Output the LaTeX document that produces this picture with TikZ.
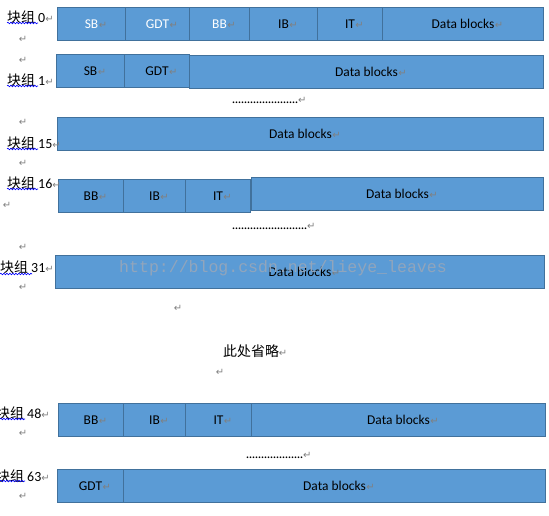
\documentclass[tikz,border=0pt]{standalone}
\usepackage{fontspec}
\setmainfont{Carlito}
\newfontfamily\cjkfont{Noto Sans CJK SC}
\newfontfamily\arrowfont{DejaVu Sans}
\newfontfamily\wmfont{Liberation Mono}
\usetikzlibrary{decorations.pathmorphing}
\definecolor{BlockFill}{RGB}{91,155,213}
\definecolor{BlockEdge}{RGB}{65,113,156}
\definecolor{MarkClr}{RGB}{128,128,128}
\definecolor{WaterClr}{RGB}{145,165,188}
\newcommand\pmark{{\arrowfont\fontsize{10}{10}\selectfont\textcolor{MarkClr}{↵}}}
\newcommand\cellmark{\rlap{\kern0.5bp\pmark}}
\newcommand\dotrun[1]{\hbox to #1bp{\xleaders\hbox to 3bp{\hss.\hss}\hfill}}

\begin{document}
\begin{tikzpicture}[x=1bp,y=-1bp,
  cell/.style={draw=BlockEdge,fill=BlockFill,line width=1bp,anchor=north west,inner sep=0pt,
    minimum width=#1bp,minimum height=33bp,font=\fontsize{13.5}{16}\selectfont},
  lbl/.style={anchor=west,inner sep=0pt,font=\fontsize{14}{17}\selectfont},
  pmk/.style={inner sep=0pt},
  squig/.style={draw=blue,line width=0.6bp,decorate,decoration={snake,amplitude=0.8bp,segment length=3bp}}]
\useasboundingbox (0,0) rectangle (549,516);

% group 0
\node[cell=68,text=white] (g0sb) at (57,7) {SB\cellmark};
\node[cell=64,text=white] (g0gdt) at (125,7) {GDT\cellmark};
\node[cell=60,text=white] (g0bb) at (189,7) {BB\cellmark};
\node[cell=68] (g0ib) at (249,7) {IB\cellmark};
\node[cell=65] (g0it) at (317,7) {IT\cellmark};
\node[cell=161] (g0data) at (382,7) {Data blocks\cellmark};
\node[lbl] (lbl0) at (7,17) {{\cjkfont 块组} 0\pmark};
\draw[squig] (7,23) -- (38,23);

% group 1
\node[cell=68] (g1sb) at (56,54) {SB\cellmark};
\node[cell=65] (g1gdt) at (124,54) {GDT\cellmark};
\node[cell=354] (g1data) at (189,55) {Data blocks\cellmark};
\node[lbl] (lbl1) at (7,80) {{\cjkfont 块组} 1\pmark};
\draw[squig] (7,86) -- (38,86);

\node[lbl,anchor=base west] (dots1) at (232,104) {\dotrun{66}\pmark};

% group 15
\node[cell=486] (g15data) at (57,117) {Data blocks\cellmark};
\node[lbl] (lbl15) at (7,143) {{\cjkfont 块组} 15\pmark};
\draw[squig] (7,149) -- (38,149);

% group 16
\node[cell=65] (g16bb) at (58,179) {BB\cellmark};
\node[cell=62] (g16ib) at (123,179) {IB\cellmark};
\node[cell=65] (g16it) at (185,179) {IT\cellmark};
\node[cell=292] (g16data) at (251,177) {Data blocks\cellmark};
\node[lbl] (lbl16) at (7,183) {{\cjkfont 块组} 16\pmark};
\draw[squig] (7,189) -- (38,189);

\node[lbl,anchor=base west] (dots2) at (232,229) {\dotrun{75}\pmark};

% group 31
\node[cell=489] (g31data) at (55,255) {Data blocks\cellmark};
\node[lbl] (lbl31) at (0,267) {{\cjkfont 块组} 31\pmark};
\draw[squig] (0,274) -- (32,274);
\node[inner sep=0pt,text=WaterClr,font=\wmfont\fontsize{16.6}{18}\selectfont] (wm) at (283,268) {http://blog.csdn.net/lieye\_leaves};

\node[lbl] (skip) at (223,351) {{\cjkfont 此处省略}\pmark};

% group 48
\node[cell=65] (g48bb) at (58,403) {BB\cellmark};
\node[cell=62] (g48ib) at (123,403) {IB\cellmark};
\node[cell=66] (g48it) at (185,403) {IT\cellmark};
\node[cell=294] (g48data) at (251,403) {Data blocks\cellmark};
\node[lbl] (lbl48) at (-4,413) {{\cjkfont 块组} 48\pmark};
\draw[squig] (0,419) -- (25,419);

\node[lbl,anchor=base west] (dots3) at (246,458) {\dotrun{57}\pmark};

% group 63
\node[cell=66] (g63gdt) at (57,469) {GDT\cellmark};
\node[cell=422] (g63data) at (123,469) {Data blocks\cellmark};
\node[lbl] (lbl63) at (-4,476) {{\cjkfont 块组} 63\pmark};
\draw[squig] (0,481) -- (25,481);

% empty paragraphs
\node[pmk] (pm1) at (23,39) {\pmark};
\node[pmk] (pm2) at (23,60) {\pmark};
\node[pmk] (pm3) at (23,122) {\pmark};
\node[pmk] (pm4) at (23,163) {\pmark};
\node[pmk] (pm5) at (7,205) {\pmark};
\node[pmk] (pm6) at (23,247) {\pmark};
\node[pmk] (pm7) at (23,287) {\pmark};
\node[pmk] (pm8) at (178,308) {\pmark};
\node[pmk] (pm9) at (220,372) {\pmark};
\node[pmk] (pm10) at (23,433) {\pmark};
\node[pmk] (pm11) at (23,496) {\pmark};
\end{tikzpicture}
\end{document}
